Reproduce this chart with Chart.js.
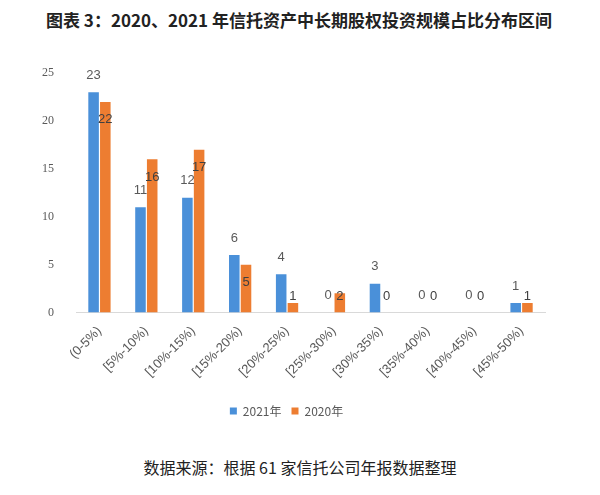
<!DOCTYPE html>
<html>
<head>
<meta charset="utf-8">
<script src="https://cdn.jsdelivr.net/npm/chart.js@4"></script>
<style>
  body { margin: 0; background: #fff; }
  #wrap { position: relative; width: 600px; height: 495px; font-family: "Noto Sans CJK SC", sans-serif; }
  #title { position: absolute; top: 7px; left: 0; width: 598px; text-align: center; font-size: 17px; font-weight: bold; color: #222; white-space: nowrap; }
  #box { position: absolute; top: 52px; left: 0; width: 600px; height: 375px; }
  #note { position: absolute; top: 455px; left: 0; width: 600px; text-align: center; font-size: 16px; color: #222; }
</style>
</head>
<body>
<div id="wrap">
  <div id="title">图表 3：2020、2021 年信托资产中长期股权投资规模占比分布区间</div>
  <div id="box"><canvas id="chart"></canvas></div>
  <div id="note">数据来源：根据 61 家信托公司年报数据整理</div>
</div>
<script>
// 区间分类
const categories = ['(0-5%)', '[5%-10%)', '[10%-15%)', '[15%-20%)', '[20%-25%)', '[25%-30%)', '[30%-35%)', '[35%-40%)', '[40%-45%)', '[45%-50%)'];
// 公司数量
const values2021 = [23, 11, 12, 6, 4, 0, 3, 0, 0, 1];
const values2020 = [22, 16, 17, 5, 1, 2, 0, 0, 0, 1];
const yTicks = [0, 5, 10, 15, 20, 25];

// 柱子上的数字
const barLabels = {
    id: 'barLabels',
    afterDatasetsDraw(chart) {
        const ctx = chart.ctx;
        const zeroY = chart.scales.y.getPixelForValue(0);
        ctx.save();
        ctx.font = '13px "Liberation Sans", sans-serif';
        ctx.textAlign = 'center';
        ctx.textBaseline = 'middle';
        chart.data.datasets.forEach((ds, i) => {
            chart.getDatasetMeta(i).data.forEach((bar, j) => {
                let y;
                if (i === 0) {
                    ctx.fillStyle = '#595959';
                    y = bar.y - 17;
                } else {
                    ctx.fillStyle = '#404040';
                    y = Math.min(bar.y + 18, zeroY - 16);
                }
                ctx.fillText(String(ds.data[j]), bar.x, y);
            });
        });
        ctx.restore();
    }
};

new Chart(document.getElementById('chart'), {
    type: 'bar',
    data: {
        labels: categories,
        datasets: [{
            label: '2021年',
            data: values2021,
            backgroundColor: '#4a90d9',
            barPercentage: 0.9,
            categoryPercentage: 0.5
        }, {
            label: '2020年',
            data: values2020,
            backgroundColor: '#ed7d31',
            barPercentage: 0.9,
            categoryPercentage: 0.5
        }]
    },
    options: {
        responsive: true,
        maintainAspectRatio: false,
        animation: false,
        layout: { padding: { top: 21, right: 55, left: 28, bottom: 0 } },
        plugins: {
            legend: {
                position: 'bottom',
                labels: {
                    boxWidth: 7,
                    boxHeight: 7,
                    color: '#595959',
                    font: { size: 12, family: '"Noto Sans CJK SC", sans-serif' }
                }
            },
            tooltip: { enabled: false }
        },
        scales: {
            x: {
                grid: { display: false },
                border: { color: '#d9d9d9' },
                afterFit(scale) {
                    scale.height += 12;
                },
                ticks: {
                    color: '#595959',
                    minRotation: 45,
                    maxRotation: 45,
                    font: { size: 13, family: '"Liberation Sans", sans-serif' }
                }
            },
            y: {
                min: 0,
                max: 25,
                afterBuildTicks(axis) {
                    axis.ticks = yTicks.map(v => ({ value: v }));
                },
                grid: { display: false },
                border: { display: false },
                ticks: {
                    color: '#595959',
                    padding: 14,
                    font: { size: 12, family: '"Liberation Serif", serif' }
                }
            }
        }
    },
    plugins: [barLabels]
});
</script>
</body>
</html>
